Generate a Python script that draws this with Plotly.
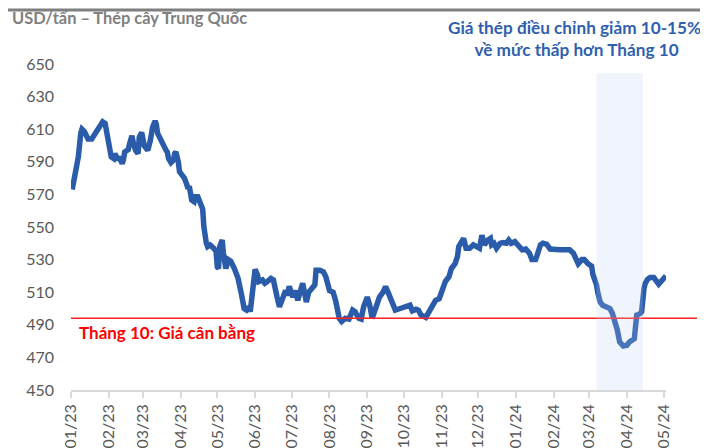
import plotly.graph_objects as go

dates = [
    "2023-01-02", "2023-01-03", "2023-01-04", "2023-01-06", "2023-01-07", "2023-01-09", "2023-01-10",
    "2023-01-12", "2023-01-15", "2023-01-18", "2023-01-22", "2023-01-27", "2023-01-29", "2023-01-30",
    "2023-01-31", "2023-02-02", "2023-02-03", "2023-02-05", "2023-02-06", "2023-02-08", "2023-02-10",
    "2023-02-12", "2023-02-13", "2023-02-14", "2023-02-17", "2023-02-18", "2023-02-20", "2023-02-21",
    "2023-02-23", "2023-02-25", "2023-02-26", "2023-02-28", "2023-03-01", "2023-03-02", "2023-03-04",
    "2023-03-05", "2023-03-07", "2023-03-09", "2023-03-11", "2023-03-12", "2023-03-13", "2023-03-15",
    "2023-03-17", "2023-03-18", "2023-03-20", "2023-03-21", "2023-03-22", "2023-03-24", "2023-03-26",
    "2023-03-27", "2023-03-28", "2023-03-30", "2023-03-31", "2023-04-02", "2023-04-04", "2023-04-06",
    "2023-04-07", "2023-04-08", "2023-04-10", "2023-04-12", "2023-04-13", "2023-04-15", "2023-04-17",
    "2023-04-19", "2023-04-20", "2023-04-21", "2023-04-22", "2023-04-23", "2023-04-25", "2023-04-28",
    "2023-04-30", "2023-05-01", "2023-05-02", "2023-05-03", "2023-05-05", "2023-05-06", "2023-05-08",
    "2023-05-10", "2023-05-12", "2023-05-15", "2023-05-18", "2023-05-21", "2023-05-23", "2023-05-25",
    "2023-05-27", "2023-05-28", "2023-05-30", "2023-06-01", "2023-06-03", "2023-06-04", "2023-06-07",
    "2023-06-09", "2023-06-11", "2023-06-14", "2023-06-16", "2023-06-17", "2023-06-19", "2023-06-21",
    "2023-06-23", "2023-06-26", "2023-06-27", "2023-06-29", "2023-07-02", "2023-07-04", "2023-07-06",
    "2023-07-08", "2023-07-10", "2023-07-12", "2023-07-13", "2023-07-15", "2023-07-18", "2023-07-20",
    "2023-07-21", "2023-07-24", "2023-07-27", "2023-07-29", "2023-08-01", "2023-08-04", "2023-08-06",
    "2023-08-07", "2023-08-08", "2023-08-09", "2023-08-11", "2023-08-14", "2023-08-17", "2023-08-20",
    "2023-08-22", "2023-08-25", "2023-08-27", "2023-08-29", "2023-09-01", "2023-09-03", "2023-09-05",
    "2023-09-08", "2023-09-11", "2023-09-14", "2023-09-16", "2023-09-18", "2023-09-20", "2023-09-22",
    "2023-09-24", "2023-09-28", "2023-10-02", "2023-10-06", "2023-10-08", "2023-10-11", "2023-10-13",
    "2023-10-15", "2023-10-19", "2023-10-22", "2023-10-25", "2023-10-27", "2023-10-30", "2023-11-01",
    "2023-11-04", "2023-11-07", "2023-11-09", "2023-11-12", "2023-11-14", "2023-11-15", "2023-11-17",
    "2023-11-19", "2023-11-21", "2023-11-24", "2023-11-27", "2023-12-01", "2023-12-02", "2023-12-04",
    "2023-12-06", "2023-12-09", "2023-12-11", "2023-12-12", "2023-12-14", "2023-12-16", "2023-12-19",
    "2023-12-21", "2023-12-24", "2023-12-26", "2023-12-28", "2023-12-31", "2024-01-03", "2024-01-06",
    "2024-01-09", "2024-01-12", "2024-01-14", "2024-01-17", "2024-01-18", "2024-01-21", "2024-01-23",
    "2024-01-26", "2024-01-29", "2024-02-02", "2024-02-06", "2024-02-10", "2024-02-14", "2024-02-17",
    "2024-02-19", "2024-02-21", "2024-02-24", "2024-02-26", "2024-02-29", "2024-03-03", "2024-03-04",
    "2024-03-06", "2024-03-07", "2024-03-08", "2024-03-10", "2024-03-12", "2024-03-15", "2024-03-18",
    "2024-03-20", "2024-03-22", "2024-03-24", "2024-03-26", "2024-03-29", "2024-04-01", "2024-04-03",
    "2024-04-07", "2024-04-08", "2024-04-09", "2024-04-12", "2024-04-13", "2024-04-15", "2024-04-16",
    "2024-04-18", "2024-04-20", "2024-04-23", "2024-04-25", "2024-04-27", "2024-04-30", "2024-05-03",
]

prices = [
    573, 577, 585, 590, 593, 607.5, 610,
    608.5, 604, 604, 608.5, 614.5, 613.5, 609.5,
    608.5, 599, 593, 592, 595, 592, 592,
    589, 591, 596, 597.5, 601, 606, 602,
    597, 595, 605, 608, 603, 600, 598,
    597, 603, 611.5, 615, 613, 607.5, 604,
    602, 599, 597, 596, 592, 589.5, 591,
    595, 596, 590, 584, 582, 580, 576,
    573.5, 575, 566.5, 565.5, 568.5, 568.5, 565.5,
    561, 550, 543, 540, 538, 539, 537,
    535, 525.5, 524.5, 538, 542, 534, 524.5,
    530, 529, 524.5, 518.5, 508, 500, 499,
    501, 498, 511, 524, 520.5, 516.5, 517.5,
    515.5, 516.5, 518.5, 517.5, 512.5, 507, 501,
    506, 511, 508, 513.5, 507, 511, 505,
    510, 515.5, 508, 504, 510, 513.5, 514.5,
    523.5, 523.5, 522.5, 519.5, 511, 510, 505,
    501, 495, 494, 492, 494, 493.5, 499,
    498, 494, 493.5, 501, 507, 502, 494,
    502, 507, 510, 513.5, 510, 506, 503,
    499, 500, 501, 502, 498.5, 499.5, 499,
    496, 494.5, 499, 502, 505, 506, 511,
    516.5, 519.5, 524.5, 527.5, 532, 538, 541,
    543, 537, 537, 539, 537, 537, 545,
    539, 542, 543, 539, 540, 537, 540,
    540.5, 540, 542, 540, 541, 539, 536,
    536.5, 534, 530, 530, 532, 539, 540,
    539.5, 536.5, 536, 536, 536, 536, 534,
    530, 527.5, 530, 530, 527.5, 526, 521,
    517, 514.5, 510, 504, 502, 500.5, 500,
    497, 493, 487, 479.5, 477, 477.5, 479.5,
    481.5, 487, 496, 497, 498, 512.5, 515.5,
    518, 519, 519, 517, 515, 517.5, 520,
]

month_ticks = ["2023-01-01", "2023-02-01", "2023-03-01", "2023-04-01", "2023-05-01", "2023-06-01",
               "2023-07-01", "2023-08-01", "2023-09-01", "2023-10-01", "2023-11-01", "2023-12-01",
               "2024-01-01", "2024-02-01", "2024-03-01", "2024-04-01", "2024-05-01"]
month_labels = ["01/23", "02/23", "03/23", "04/23", "05/23", "06/23", "07/23", "08/23", "09/23",
                "10/23", "11/23", "12/23", "01/24", "02/24", "03/24", "04/24", "05/24"]
y_ticks = [450, 470, 490, 510, 530, 550, 570, 590, 610, 630, 650]

balance_level = 494
highlight_start = "2024-03-07"
highlight_end = "2024-04-14"

title_text = "USD/tấn – Thép cây Trung Quốc"
note_text = "Giá thép điều chỉnh giảm 10-15%,<br>về mức thấp hơn Tháng 10"
balance_text = "Tháng 10: Giá cân bằng"

FONT = "Lato"
BLUE = "#2a5caa"
GRAY = "#595959"

fig = go.Figure()
fig.add_trace(go.Scatter(
    x=dates, y=prices, mode="lines",
    line=dict(color=BLUE, width=5.5),
    hoverinfo="skip", showlegend=False,
))

# red balance line (extends a bit beyond the axis on the right)
fig.add_shape(type="line", xref="paper", yref="y", x0=0, x1=1.052,
              y0=balance_level, y1=balance_level,
              line=dict(color="#ff2020", width=1.5), layer="above")

# highlighted window
fig.add_shape(type="rect", xref="x", yref="paper", x0=highlight_start, x1=highlight_end,
              y0=0, y1=0.972, fillcolor="rgb(186,204,241)", opacity=0.22,
              line=dict(width=0), layer="above")

# top rule
fig.add_shape(type="rect", xref="paper", yref="paper", x0=-0.106, x1=1.071, y0=1.161, y1=1.170,
              fillcolor="#7f7f7f", line=dict(width=0), layer="above")

fig.add_annotation(text=title_text, xref="paper", yref="paper", x=-0.1025, y=1.144,
                   xanchor="left", yanchor="middle", showarrow=False,
                   font=dict(family=FONT, size=16.4, color="#808080", weight="bold"))
fig.add_annotation(text=note_text, xref="paper", yref="paper", x=0.849, y=1.077,
                   xanchor="center", yanchor="middle", align="center", showarrow=False,
                   font=dict(family=FONT, size=17.2, color="#2f5fae", weight="bold"))
fig.add_annotation(text=balance_text, xref="paper", yref="paper", x=0.010, y=0.175,
                   xanchor="left", yanchor="middle", showarrow=False,
                   font=dict(family=FONT, size=17, color="#ff0000", weight="bold"))

# The page body has an 8px default margin, so the figure is 8px smaller than the window
fig.update_layout(
    width=700, height=440,
    margin=dict(l=63, r=42, t=56, b=58, autoexpand=False),
    plot_bgcolor="white", paper_bgcolor="white",
    font=dict(family=FONT, color=GRAY),
    xaxis=dict(
        type="date", range=["2023-01-01", "2024-05-03"],
        tickmode="array", tickvals=month_ticks, ticktext=month_labels,
        tickangle=-90, tickfont=dict(size=16, color=GRAY),
        showgrid=False, zeroline=False, automargin=False,
        showline=True, linecolor="#d9d9d9", linewidth=1.5,
        ticks="outside", ticklen=6, tickcolor="#d9d9d9", tickwidth=1.5,
    ),
    yaxis=dict(
        range=[450, 650], tickmode="array", tickvals=y_ticks,
        tickfont=dict(size=16, color=GRAY), automargin=False,
        showgrid=False, zeroline=False, showline=False,
        ticklabelstandoff=16,
    ),
)

fig.write_html("out.html")
